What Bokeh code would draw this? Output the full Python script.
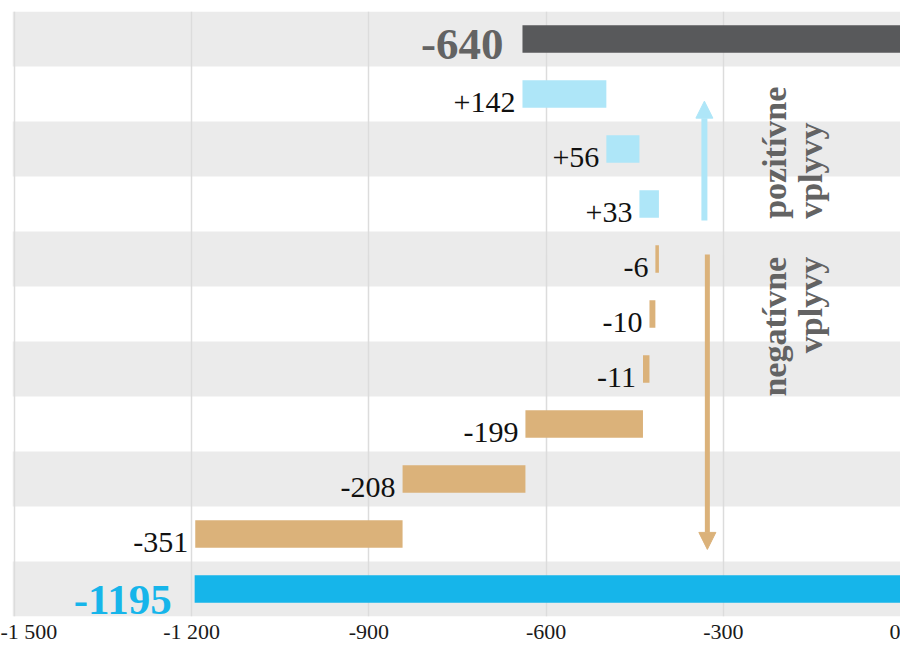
from math import pi
from bokeh.plotting import figure
from bokeh.models import Range1d, BoxAnnotation, Arrow, NormalHead, FixedTicker
from bokeh.embed import file_html
from bokeh.resources import INLINE
from bokeh.core.properties import value

# ---- data ----
start_value = -640
end_value = -1195
changes = [142, 56, 33, -6, -10, -11, -199, -208, -351]
change_labels = ["+142", "+56", "+33", "-6", "-10", "-11", "-199", "-208", "-351"]
start_label = "-640"
end_label = "-1195"
tick_values = [-1500, -1200, -900, -600, -300, 0]
tick_labels = ["-1 500", "-1 200", "-900", "-600", "-300", "0"]
pos_text = ["pozitívne", "vplyvy"]
neg_text = ["negatívne", "vplyvy"]

# ---- colors / styles ----
C_BAND = "#ebebeb"
C_GRID = "#dcdcdc"
C_START = "#58595b"
C_POS = "#aee6f8"
C_NEG = "#dbb27a"
C_END = "#16b5ea"
C_GREY_TXT = "#636363"
FONT = value("Liberation Serif")

n_rows = len(changes) + 2

p = figure(width=900, height=648,
           x_range=Range1d(-1503.4, 0), y_range=Range1d(n_rows, 0),
           output_backend="svg", toolbar_location=None,
           y_axis_location=None,
           min_border_left=12, min_border_right=0,
           min_border_top=11, min_border_bottom=32)
p.outline_line_color = None
p.background_fill_color = "white"

# alternating bands
for i in range(0, n_rows, 2):
    p.add_layout(BoxAnnotation(top=i, bottom=i + 1, fill_color=C_BAND,
                               fill_alpha=1, line_color=None, level="image"))

# grid
p.ygrid.visible = False
p.xgrid.ticker = FixedTicker(ticks=tick_values)
p.xgrid.grid_line_color = C_GRID
p.xgrid.grid_line_width = 1.5

# axis
ax = p.xaxis[0]
ax.ticker = FixedTicker(ticks=tick_values)
ax.major_label_overrides = {v: l for v, l in zip(tick_values, tick_labels)}
ax.axis_line_color = None
ax.major_tick_line_color = None
ax.minor_tick_line_color = None
ax.major_tick_out = 0
ax.major_tick_in = 0
ax.major_label_standoff = 2
ax.major_label_text_font = "Liberation Serif"
ax.major_label_text_font_size = "22px"
ax.major_label_text_color = "#1a1a1a"

# bars
lefts, rights, rows, colors = [], [], [], []
lefts.append(start_value); rights.append(0); rows.append(0.5); colors.append(C_START)
cur = start_value
for k, c in enumerate(changes):
    nxt = cur + c
    lefts.append(min(cur, nxt)); rights.append(max(cur, nxt))
    rows.append(k + 1.5)
    colors.append(C_POS if c > 0 else C_NEG)
    cur = nxt
lefts.append(end_value); rights.append(0); rows.append(n_rows - 0.5); colors.append(C_END)

p.hbar(y=rows, left=lefts, right=rights, height=0.5,
       fill_color=colors, line_color=None)

# small labels
p.text(x=lefts[1:-1], y=rows[1:-1], text=change_labels,
       text_align="right", text_baseline="middle", x_offset=-7, y_offset=8,
       text_font=FONT, text_font_size="30px", text_color="#111111")

# big labels
p.text(x=[lefts[0]], y=[rows[0]], text=[start_label],
       text_align="right", text_baseline="middle", x_offset=-19, y_offset=5,
       text_font=FONT, text_font_size="45px", text_font_style="bold",
       text_color=C_GREY_TXT)
p.text(x=[lefts[-1]], y=[rows[-1]], text=[end_label],
       text_align="right", text_baseline="middle", x_offset=-23, y_offset=11,
       text_font=FONT, text_font_size="43px", text_font_style="bold",
       text_color=C_END)

# arrows
pos_arrow = dict(x=-332, y0=3.80, y1=1.63)
neg_arrow = dict(x=-327, y0=4.42, y1=9.78)
p.add_layout(Arrow(x_start=pos_arrow["x"], y_start=pos_arrow["y0"],
                   x_end=pos_arrow["x"], y_end=pos_arrow["y1"],
                   line_color=C_POS, line_width=6,
                   end=NormalHead(size=17, fill_color=C_POS, line_color=C_POS)))
p.add_layout(Arrow(x_start=neg_arrow["x"], y_start=neg_arrow["y0"],
                   x_end=neg_arrow["x"], y_end=neg_arrow["y1"],
                   line_color=C_NEG, line_width=5,
                   end=NormalHead(size=17, fill_color=C_NEG, line_color=C_NEG)))

# rotated annotations
text_x = [-213, -152]
p.text(x=text_x, y=[3.77, 3.77], text=pos_text, angle=pi / 2,
       text_align="left", text_baseline="middle",
       text_font=FONT, text_font_size="34px", text_font_style="bold",
       text_color=C_GREY_TXT)
p.text(x=text_x, y=[4.46, 4.46], text=neg_text, angle=pi / 2,
       text_align="right", text_baseline="middle",
       text_font=FONT, text_font_size="34px", text_font_style="bold",
       text_color=C_GREY_TXT)

open("out.html", "w").write(file_html(p, INLINE))
